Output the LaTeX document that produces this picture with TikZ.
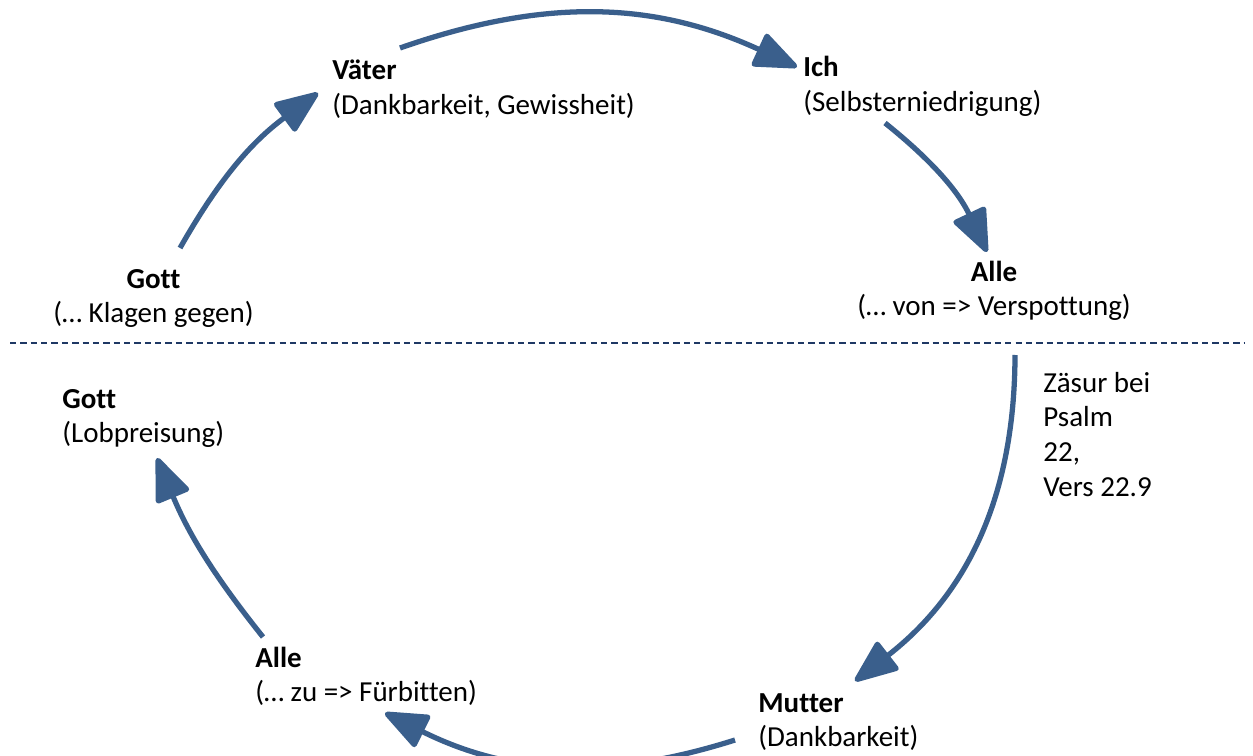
\documentclass[tikz,border=0pt]{standalone}
\usepackage{fontspec}
\setmainfont{Carlito}[Ligatures=NoCommon]
\usepackage{tikz}
\usetikzlibrary{arrows.meta}
\definecolor{psalm_blue}{RGB}{58, 95, 140}
\definecolor{cut_navy}{RGB}{31, 56, 100}
\tikzstyle{lbl}=[inner sep=0pt,font=\fontsize{16.5}{19.8}\selectfont]
\tikzstyle{arr}=[draw=psalm_blue,line width=3pt,
  -{Triangle[length=27pt,width=21pt,round]},psalm_blue]
\tikzstyle{cut}=[draw=cut_navy,line width=1.2pt,dash pattern=on 3.6pt off 2.3pt]

\begin{document}
\begin{tikzpicture}[x=0.02cm,y=-0.02cm]
    \useasboundingbox (0,0) rectangle (1253,756);
    % upper half
    \node [style=lbl,anchor=north,align=center] (gott1) at (153.5,263.3)
      {\strut\textbf{Gott}\\(… Klagen gegen)};
    \node [style=lbl,anchor=north west,align=left] (vaeter) at (332,55.3)
      {\strut\textbf{Väter}\\(Dankbarkeit, Gewissheit)};
    \node [style=lbl,anchor=north west,align=left] (ich) at (803,52.3)
      {\strut\textbf{Ich}\\(Selbsterniedrigung)};
    \node [style=lbl,anchor=north,align=center] (alle1) at (994,256.3)
      {\strut\textbf{Alle}\\(… von => Verspottung)};
    % lower half
    \node [style=lbl,anchor=north west,align=left] (zaesur) at (1043,367.3)
      {\strut Zäsur bei\\Psalm\\22,\\Vers 22.9};
    \node [style=lbl,anchor=north west,align=left] (mutter) at (758,687.3)
      {\strut\textbf{Mutter}\\(Dankbarkeit)};
    \node [style=lbl,anchor=north west,align=left] (alle2) at (255,642.3)
      {\strut\textbf{Alle}\\(… zu => Fürbitten)};
    \node [style=lbl,anchor=north west,align=left] (gott2) at (62,383.3)
      {\strut\textbf{Gott}\\(Lobpreisung)};
    % arrow ends
    \coordinate (gottout) at (180,248);
    \coordinate (vaeterin) at (318,93);
    \coordinate (vaeterout) at (400,48);
    \coordinate (ichin) at (797,67);
    \coordinate (ichout) at (885,123);
    \coordinate (allein) at (987,252);
    \coordinate (alleout) at (1015,355);
    \coordinate (mutterin) at (855,681);
    \coordinate (mutterout) at (735,740);
    \coordinate (alle2in) at (385,713);
    \coordinate (alle2out) at (263,637);
    \coordinate (gott2in) at (157,458);
    \coordinate (cutl) at (10,343);
    \coordinate (cutr) at (1245,343);
    \draw [style=arr] (gottout) to[bend left=12] (vaeterin);
    \draw [style=arr] (vaeterout) to[bend left=22] (ichin);
    \draw [style=arr] (ichout) to[bend left=13] (allein);
    \draw [style=arr] (alleout) to[bend left=26] (mutterin);
    \draw [style=arr] (mutterout) to[bend left=22] (alle2in);
    \draw [style=arr] (alle2out) to[bend left=8] (gott2in);
    \draw [style=cut] (cutl) to (cutr);
  \end{tikzpicture}
\end{document}
